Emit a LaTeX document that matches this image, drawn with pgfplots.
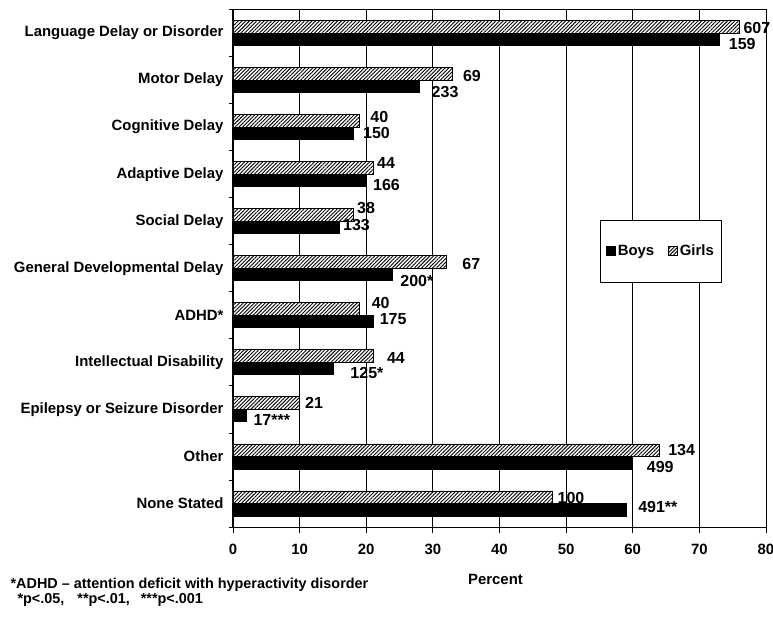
\documentclass[border=0pt]{standalone}
\usepackage{fontspec}
\setmainfont{Liberation Sans}
\usepackage{pgfplots}
\pgfplotsset{compat=1.18}
\usepackage{pgfplotstable}
\usetikzlibrary{patterns.meta}

\newcommand\lbl{\fontsize{14.9}{16}\selectfont\bfseries}
\newcommand\flbl{\fontsize{14.4}{15}\selectfont\bfseries}
\newcommand\dlbl{\fontsize{16}{18}\selectfont\bfseries}

\pgfplotstableread{
y x
10 73
9 28
8 18
7 20
6 16
5 24
4 21
3 15
2 2
1 60
0 59
}\boys

\pgfplotstableread{
y x
10 76
9 33
8 19
7 21
6 18
5 32
4 19
3 21
2 10
1 64
0 48
}\girls

\pgfplotstableread{
x y lab
76.6 10.10 607
74.4 9.76 159
34.5 9.085 69
29.8 8.75 233
20.6 8.22 40
19.5 7.87 150
21.6 7.24 44
21.0 6.77 166
18.6 6.28 38
16.5 5.92 133
34.4 5.09 67
25.1 4.73 200*
20.8 4.26 40
22.0 3.92 175
23.1 3.09 44
17.6 2.77 125*
10.8 2.14 21
3.05 1.77 17***
65.3 1.14 134
62.1 0.78 499
48.7 0.12 100
60.8 -0.07 491**
}\labels

\begin{document}
\begin{tikzpicture}
\path[use as bounding box] (-233pt,-89pt) rectangle (540pt,527pt);
\begin{axis}[
  scale only axis, width=533pt, height=517.5pt,
  clip=false,
  xmin=0, xmax=80, ymin=-0.5, ymax=10.5,
  xtick={0,10,...,80},
  ytick={0,...,10},
  yticklabels={None Stated, Other, Epilepsy or Seizure Disorder, Intellectual Disability, ADHD*, General Developmental Delay, Social Delay, Adaptive Delay, Cognitive Delay, Motor Delay, Language Delay or Disorder},
  minor ytick={-0.5,0.5,...,10.5},
  major y tick style={draw=none},
  minor y tick style={draw=black, line width=0.8pt},
  minor tick length=4pt,
  major tick length=6pt,
  tick align=outside,
  tick pos=left,
  major x tick style={draw=black, line width=0.8pt},
  xmajorgrids, major grid style={black, line width=0.8pt},
  axis line style={line width=1pt},
  ticklabel style={font=\lbl},
  xticklabel style={yshift=-8pt},
  /pgf/number format/assume math mode=true,
  xlabel={Percent}, xlabel style={font=\lbl, yshift=-12pt, xshift=-4pt},
  legend style={at={(0.803,0.533)}, anchor=center, draw=black, line width=1pt,
    font=\lbl, inner xsep=6pt, inner ysep=23pt,
    /tikz/every even column/.append style={column sep=12pt}},
  legend columns=2,
  legend image code/.code={\draw[#1, line width=0.6pt] (0pt,-4.5pt) rectangle (9pt,4.5pt);},
]
\addplot[xbar, bar width=12.5pt, bar shift=-6.25pt, fill=black, draw=black, line width=0.8pt]
  table[x=x,y=y]{\boys};
\addlegendentry{Boys}
\addplot[xbar, bar width=12.5pt, bar shift=6.25pt, draw=black, line width=0.8pt,
  preaction={fill=white},
  pattern={Lines[angle=45,distance=2.6pt,line width=0.9pt]}]
  table[x=x,y=y]{\girls};
\addlegendentry{Girls}
\addplot[draw=none, mark=none, forget plot, point meta=explicit symbolic, nodes near coords,
  every node near coord/.append style={anchor=west, inner sep=0pt, font=\dlbl}]
  table[x=x,y=y,meta=lab]{\labels};
\node[anchor=base west, font=\flbl, inner sep=0pt] at (axis description cs:-0.4176,-0.1179) {*ADHD -- attention deficit with hyperactivity disorder};
\node[anchor=base west, font=\flbl, inner sep=0pt] at (axis description cs:-0.4045,-0.1469) {*p<.05,\hspace{13pt}**p<.01,\hspace{11pt}***p<.001};
\end{axis}
\end{tikzpicture}
\end{document}
